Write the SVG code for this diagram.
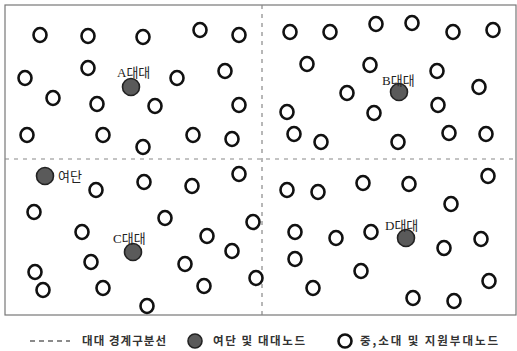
<svg xmlns="http://www.w3.org/2000/svg" width="517" height="351" viewBox="0 0 517 351">
<defs>
<style>
.n{fill:#fff;stroke:#111;stroke-width:2.6}
.h{fill:#5a5a5a;stroke:#222;stroke-width:1.6}
.frame{fill:none;stroke:#777;stroke-width:1.2}
.div{fill:none;stroke:#888;stroke-width:1.2;stroke-dasharray:4 5}
.lbl{font-family:"Liberation Serif","Noto Sans CJK KR",serif;font-size:13px;fill:#222}
.lg{font-family:"Noto Sans CJK KR","Liberation Sans",sans-serif;font-size:11.5px;fill:#333;font-weight:bold}
</style>
<ellipse id="c" class="n" rx="6.5" ry="7"/>
</defs>
<g id="frame">
<rect class="frame" x="5" y="5" width="511" height="310"/>
</g>
<g id="connectors">
<line class="div" x1="262" y1="5" x2="262" y2="315"/>
<line class="div" x1="5" y1="159" x2="516" y2="159"/>
</g>
<g id="quadA">
<use href="#c" x="40" y="35"/><use href="#c" x="88" y="36"/><use href="#c" x="143" y="37"/><use href="#c" x="200" y="30"/><use href="#c" x="239" y="35"/>
<use href="#c" x="25" y="78"/><use href="#c" x="88" y="68"/><use href="#c" x="177" y="78"/><use href="#c" x="225" y="71"/>
<use href="#c" x="53" y="98"/><use href="#c" x="97" y="104"/><use href="#c" x="155" y="106"/><use href="#c" x="239" y="105"/>
<use href="#c" x="27" y="135"/><use href="#c" x="103" y="135"/><use href="#c" x="143" y="147"/><use href="#c" x="193" y="135"/><use href="#c" x="232" y="139"/>
</g>
<g id="nodeA">
<circle class="h" cx="131" cy="87" r="8.5"/>
<text class="lbl" x="117" y="77">A대대</text>
</g>
<g id="quadB">
<use href="#c" x="290" y="32"/><use href="#c" x="330" y="32"/><use href="#c" x="376" y="24"/><use href="#c" x="412" y="23"/><use href="#c" x="453" y="32"/><use href="#c" x="493" y="30"/>
<use href="#c" x="307" y="64"/><use href="#c" x="370" y="65"/><use href="#c" x="437" y="71"/><use href="#c" x="479" y="87"/>
<use href="#c" x="347" y="93"/><use href="#c" x="287" y="112"/><use href="#c" x="374" y="113"/><use href="#c" x="438" y="105"/>
<use href="#c" x="294" y="134"/><use href="#c" x="321" y="142"/><use href="#c" x="398" y="142"/><use href="#c" x="449" y="133"/><use href="#c" x="486" y="134"/>
</g>
<g id="nodeB">
<circle class="h" cx="399" cy="92" r="8.5"/>
<text class="lbl" x="382" y="85">B대대</text>
</g>
<g id="nodeBrigade">
<circle class="h" cx="45" cy="176" r="8.5"/>
<text class="lbl" x="58" y="181">여단</text>
</g>
<g id="quadC">
<use href="#c" x="96" y="190"/><use href="#c" x="144" y="182"/><use href="#c" x="192" y="186"/><use href="#c" x="239" y="174"/>
<use href="#c" x="34" y="212"/><use href="#c" x="165" y="218"/><use href="#c" x="253" y="222"/>
<use href="#c" x="82" y="232"/><use href="#c" x="207" y="236"/><use href="#c" x="232" y="251"/>
<use href="#c" x="91" y="262"/><use href="#c" x="185" y="264"/><use href="#c" x="35" y="272"/><use href="#c" x="256" y="278"/>
<use href="#c" x="103" y="288"/><use href="#c" x="204" y="286"/><use href="#c" x="43" y="290"/><use href="#c" x="147" y="306"/>
</g>
<g id="nodeC">
<circle class="h" cx="133" cy="252" r="8.5"/>
<text class="lbl" x="113" y="243">C대대</text>
</g>
<g id="quadD">
<use href="#c" x="287" y="190"/><use href="#c" x="318" y="192"/><use href="#c" x="363" y="183"/><use href="#c" x="409" y="184"/><use href="#c" x="488" y="176"/>
<use href="#c" x="451" y="204"/>
<use href="#c" x="295" y="232"/><use href="#c" x="336" y="238"/><use href="#c" x="371" y="232"/><use href="#c" x="444" y="248"/><use href="#c" x="481" y="239"/>
<use href="#c" x="295" y="259"/><use href="#c" x="361" y="271"/><use href="#c" x="313" y="288"/><use href="#c" x="489" y="281"/><use href="#c" x="413" y="298"/><use href="#c" x="454" y="301"/>
</g>
<g id="nodeD">
<circle class="h" cx="406" cy="238" r="8.5"/>
<text class="lbl" x="385" y="230">D대대</text>
</g>
<g id="legend">
<line x1="30" y1="341" x2="70" y2="341" stroke="#666" stroke-width="1.5" stroke-dasharray="5 4"/>
<text class="lg" x="82" y="345" textLength="84" lengthAdjust="spacing">대대 경계구분선</text>
<circle class="h" cx="195" cy="341" r="7"/>
<text class="lg" x="213" y="345" textLength="92" lengthAdjust="spacing">여단 및 대대노드</text>
<ellipse class="n" cx="345" cy="341" rx="6.5" ry="6.5" stroke-width="3"/>
<text class="lg" x="360" y="345" textLength="138" lengthAdjust="spacing">중,소대 및 지원부대노드</text>
</g>
</svg>
